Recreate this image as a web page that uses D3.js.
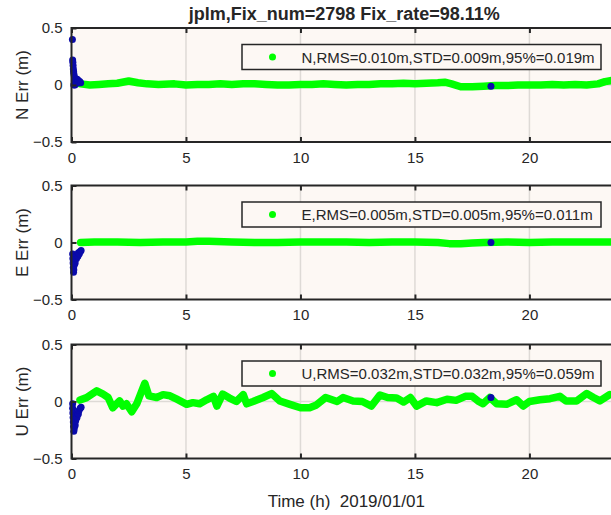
<!DOCTYPE html>
<html>
<head>
<meta charset="utf-8">
<script src="https://cdn.jsdelivr.net/npm/d3@7"></script>
<style>
  body { margin: 0; background: #fff; }
  text { font-family: "Liberation Sans", Arial, sans-serif; fill: #262626; }
</style>
</head>
<body>
<div id="chart"></div>
<script>
// title and labels
var titleText = "jplm,Fix_num=2798 Fix_rate=98.11%";
var xLabel = "Time (h)  2019/01/01";
var panelNames = ["N", "E", "U"];
var legendTexts = [
  "N,RMS=0.010m,STD=0.009m,95%=0.019m",
  "E,RMS=0.005m,STD=0.005m,95%=0.011m",
  "U,RMS=0.032m,STD=0.032m,95%=0.059m"
];
var xTicks = [0, 5, 10, 15, 20];
var yTicks = [-0.5, 0, 0.5];

// fixed solutions (green), time in hours and error in metres
var nFixTime = [0.4, 0.8, 1.2, 1.6, 2.0, 2.5, 2.9, 3.3, 3.8, 4.5, 5.0, 5.5, 6.0, 6.5, 7.0, 7.5, 8.0, 8.5, 9.0, 9.5, 10.0, 10.5, 11.0, 11.5, 12.0, 12.5, 13.0, 13.5, 14.0, 14.5, 15.0, 15.5, 16.0, 16.3, 16.6, 17.0, 17.5, 18.0, 18.5, 19.0, 19.5, 20.0, 20.5, 21.0, 21.5, 22.0, 22.5, 23.0, 23.3, 23.6];
var nFixErr = [0.01, 0.0, 0.005, 0.01, 0.015, 0.035, 0.02, 0.01, 0.005, 0.01, 0.0, 0.005, 0.005, 0.01, 0.005, 0.01, 0.01, 0.005, 0.0, 0.0, 0.005, 0.005, 0.01, 0.005, 0.0, 0.005, 0.005, 0.01, 0.01, 0.015, 0.01, 0.015, 0.02, 0.025, 0.01, -0.015, -0.015, -0.01, -0.005, -0.005, 0.0, 0.0, 0.0, 0.005, 0.0, 0.005, 0.0, 0.01, 0.03, 0.04];

var eFixTime = [0.4, 1.0, 2.0, 3.0, 4.0, 5.0, 5.5, 6.0, 7.0, 8.0, 9.0, 10.0, 11.0, 12.0, 13.0, 14.0, 15.0, 16.0, 16.5, 17.0, 17.5, 18.0, 19.0, 20.0, 21.0, 22.0, 23.0, 23.6];
var eFixErr = [0.0, 0.005, 0.005, 0.0, 0.005, 0.005, 0.01, 0.01, 0.005, 0.0, 0.0, 0.005, 0.005, 0.005, 0.0, 0.005, 0.005, 0.0, -0.01, -0.01, -0.005, 0.0, 0.005, 0.0, 0.005, 0.005, 0.005, 0.005];

var uFixTime = [0.37, 0.66, 1.1, 1.38, 1.6, 1.8, 2.1, 2.25, 2.4, 2.63, 2.85, 3.0, 3.2, 3.38, 3.72, 4.0, 4.3, 4.6, 5.03, 5.3, 5.6, 5.9, 6.2, 6.35, 6.6, 6.9, 7.2, 7.5, 7.65, 7.93, 8.37, 8.74, 9.1, 9.54, 10.0, 10.4, 10.7, 11.1, 11.6, 11.86, 12.3, 12.7, 13.1, 13.47, 13.8, 14.2, 14.5, 14.8, 15.07, 15.5, 15.95, 16.4, 16.8, 17.2, 17.5, 17.75, 17.97, 18.27, 18.57, 19.0, 19.44, 19.73, 20.0, 20.46, 20.9, 21.33, 21.6, 22.06, 22.5, 22.8, 23.08, 23.5];
var uFixErr = [0.013, 0.034, 0.093, 0.064, 0.035, -0.055, 0.005, -0.04, -0.02, -0.09, -0.02, 0.057, 0.16, 0.05, 0.035, 0.06, 0.05, 0.02, -0.025, -0.01, -0.02, 0.015, 0.045, -0.04, 0.065, 0.03, 0.0, 0.06, -0.02, 0.0, 0.035, 0.07, 0.005, -0.025, -0.055, -0.055, -0.03, 0.035, 0.0, 0.035, 0.005, 0.0, -0.04, 0.057, 0.035, 0.03, -0.005, 0.035, -0.04, 0.005, -0.01, 0.02, 0.01, 0.045, 0.045, 0.005, -0.02, 0.035, -0.02, -0.025, 0.015, -0.04, 0.0, 0.015, 0.025, 0.045, 0.005, 0.005, 0.07, 0.035, 0.005, 0.06];

// float solutions (blue)
var nFloatTime = [0.04, 0.05, 0.06, 0.07, 0.08, 0.09, 0.1, 0.1, 0.12, 0.14, 0.15, 0.16, 0.18, 0.2, 0.22, 0.25, 0.28, 0.3, 0.33, 0.36, 0.4, 18.32];
var nFloatErr = [0.40, 0.22, 0.2, 0.17, 0.14, 0.12, 0.1, 0.0, 0.08, 0.06, 0.0, 0.03, 0.01, 0.04, 0.02, 0.05, 0.03, 0.04, 0.02, 0.03, 0.02, -0.01];

var eFloatTime = [0.05, 0.06, 0.07, 0.08, 0.09, 0.1, 0.12, 0.14, 0.16, 0.18, 0.2, 0.22, 0.25, 0.28, 0.3, 0.34, 0.38, 0.42, 18.32];
var eFloatErr = [-0.1, -0.14, -0.18, -0.22, -0.26, -0.24, -0.2, -0.16, -0.18, -0.14, -0.12, -0.14, -0.11, -0.12, -0.09, -0.1, -0.08, -0.07, 0.0];

var uFloatTime = [0.05, 0.05, 0.06, 0.07, 0.08, 0.09, 0.1, 0.12, 0.14, 0.16, 0.18, 0.2, 0.22, 0.24, 0.26, 0.3, 0.33, 0.38, 0.42, 18.32];
var uFloatErr = [-0.02, -0.06, -0.1, -0.14, -0.18, -0.22, -0.26, -0.24, -0.2, -0.21, -0.17, -0.15, -0.12, -0.14, -0.1, -0.11, -0.08, -0.06, -0.05, 0.034];

var fixTimes = [nFixTime, eFixTime, uFixTime];
var fixErrs = [nFixErr, eFixErr, uFixErr];
var floatTimes = [nFloatTime, eFloatTime, uFloatTime];
var floatErrs = [nFloatErr, eFloatErr, uFloatErr];

var width = 611;
var height = 515;
var left = 71.5;
var axisRight = 621;
var panelTop = [28, 185.5, 344.5];
var panelHeight = 114;

var svg = d3.select("#chart").append("svg")
  .attr("width", width)
  .attr("height", height);

var x = d3.scaleLinear().domain([0, 24]).range([left, axisRight]);

svg.append("text")
  .attr("x", (left + axisRight) / 2 - 2)
  .attr("y", 20)
  .attr("text-anchor", "middle")
  .style("font-size", "18px")
  .style("font-weight", "bold")
  .text(titleText);

panelNames.forEach(function(name, i)
{
  var top = panelTop[i];
  var y = d3.scaleLinear().domain([-0.5, 0.5]).range([top + panelHeight, top]);
  var g = svg.append("g");

  //background
  g.append("rect")
    .attr("x", left).attr("y", top)
    .attr("width", axisRight - left).attr("height", panelHeight)
    .style("fill", "#fdf8f4");

  //grid
  g.selectAll(".vgrid").data(xTicks.slice(1)).enter().append("line")
    .attr("x1", function(d) { return x(d); }).attr("x2", function(d) { return x(d); })
    .attr("y1", top).attr("y2", top + panelHeight)
    .style("stroke", "#dedad6").style("stroke-width", 1.5);
  g.append("line")
    .attr("x1", left).attr("x2", axisRight)
    .attr("y1", y(0)).attr("y2", y(0))
    .style("stroke", "#dedad6").style("stroke-width", 1.5);

  //fixed solutions
  var pts = fixTimes[i].map(function(t, k) { return [t, fixErrs[i][k]]; });
  var line = d3.line()
    .x(function(d) { return x(d[0]); })
    .y(function(d) { return y(d[1]); });
  g.append("path")
    .datum(pts)
    .attr("d", line)
    .style("fill", "none")
    .style("stroke", "#00ff00")
    .style("stroke-width", 7.5)
    .style("stroke-linejoin", "round")
    .style("stroke-linecap", "round");

  //float solutions
  var fpts = floatTimes[i].map(function(t, k) { return [t, floatErrs[i][k]]; });
  g.selectAll(".flt").data(fpts).enter().append("circle")
    .attr("cx", function(d) { return x(d[0]); })
    .attr("cy", function(d) { return y(d[1]); })
    .attr("r", 3.5)
    .style("fill", "#0a0aaa");

  //axes
  var xAxisBottom = d3.axisBottom(x).tickValues(xTicks).tickSize(-5).tickPadding(10).tickFormat(d3.format("d"));
  var xAxisTop = d3.axisTop(x).tickValues(xTicks).tickSize(-5).tickFormat("");
  var yAxis = d3.axisLeft(y).tickValues(yTicks).tickSize(-5).tickPadding(9).tickFormat(function(d) { return d === 0 ? "0" : d3.format(".1f")(d); });

  var gb = g.append("g").attr("transform", "translate(0," + (top + panelHeight) + ")").call(xAxisBottom);
  var gt = g.append("g").attr("transform", "translate(0," + top + ")").call(xAxisTop);
  var gl = g.append("g").attr("transform", "translate(" + left + ",0)").call(yAxis);
  [gb, gt, gl].forEach(function(a)
  {
    a.select(".domain").remove();
    a.selectAll(".tick line").style("stroke", "#262626").style("stroke-width", 2);
    a.selectAll(".tick text").style("font-size", "15px").style("fill", "#262626")
      .style("font-family", "'Liberation Sans', Arial, sans-serif");
  });

  //box
  g.append("rect")
    .attr("x", left).attr("y", top)
    .attr("width", axisRight - left).attr("height", panelHeight)
    .style("fill", "none").style("stroke", "#262626").style("stroke-width", 2);

  //y label
  g.append("text")
    .attr("transform", "translate(28," + (top + panelHeight / 2) + ") rotate(-90)")
    .attr("text-anchor", "middle")
    .style("font-size", "17px")
    .text(name + " Err (m)");

  //legend
  var lg = g.append("g").attr("transform", "translate(242," + (top + 16.5) + ")");
  lg.append("rect")
    .attr("width", 359).attr("height", 25)
    .style("fill", "#fdf8f4").style("stroke", "#262626").style("stroke-width", 1.5);
  lg.append("circle")
    .attr("cx", 30.5).attr("cy", 12.5).attr("r", 3.5)
    .style("fill", "#00ff00");
  lg.append("text")
    .attr("x", 59.5).attr("y", 18)
    .style("font-size", "15px")
    .text(legendTexts[i]);
});

svg.append("text")
  .attr("x", (left + axisRight) / 2)
  .attr("y", 507)
  .attr("text-anchor", "middle")
  .style("font-size", "17px")
  .style("white-space", "pre")
  .text(xLabel);
</script>
</body>
</html>
